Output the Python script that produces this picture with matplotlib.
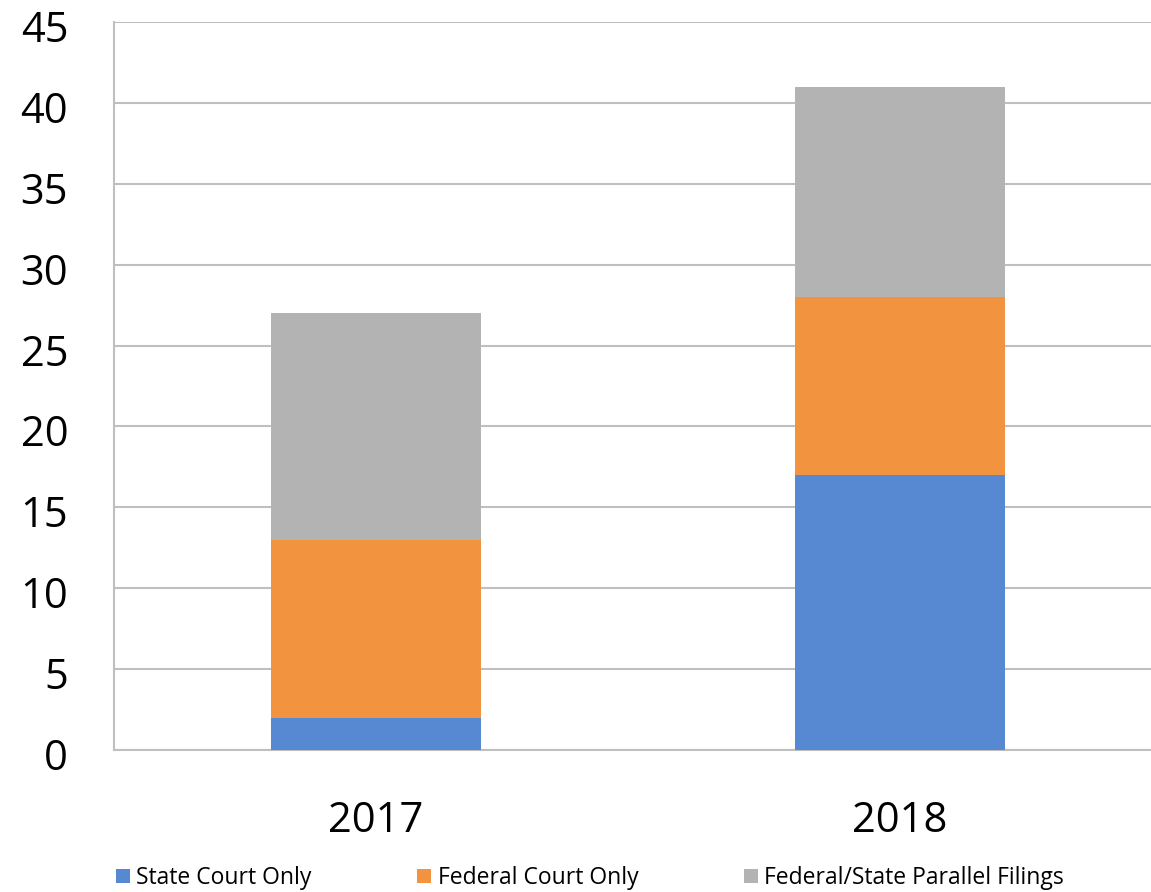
"""
Stacked bar chart: filings by court type, 2017 vs 2018.
"""
import matplotlib
matplotlib.use('Agg')
import matplotlib.pyplot as plt
import matplotlib.transforms as mtransforms
import numpy as np
from matplotlib.patches import Patch

plt.rcParams['font.family'] = ['Liberation Sans Narrow', 'Open Sans', 'DejaVu Sans']

years = ['2017', '2018']
state_only = [2, 17]
federal_only = [11, 11]
parallel = [14, 13]

series_labels = ['State Court Only', 'Federal Court Only', 'Federal/State Parallel Filings']
colors = ['#5689D1', '#F2943F', '#B3B3B3']

fig = plt.figure(figsize=(11.51, 8.92), dpi=100)
ax = fig.add_axes([114 / 1151, 142 / 892, 1037 / 1151, 728 / 892])

x = np.arange(len(years))
bottom = np.zeros(len(years))
for vals, color in zip([state_only, federal_only, parallel], colors):
    ax.bar(x, vals, width=0.4, bottom=bottom, color=color, zorder=3)
    bottom += np.array(vals)

ax.set_xlim(-0.5, 1.479)
ax.set_ylim(0, 45)
ax.set_yticks(range(0, 46, 5))
ax.set_xticks(x)
ax.set_xticklabels(years)
ax.tick_params(axis='both', length=0, labelsize=30)
ax.tick_params(axis='y', pad=33)
ax.tick_params(axis='x', pad=36)
# nudge y labels down a few pixels, like the original
offset = mtransforms.ScaledTranslation(0, -4 / 100, fig.dpi_scale_trans)
for lbl in ax.get_yticklabels():
    lbl.set_transform(lbl.get_transform() + offset)
ax.grid(True, axis='y', color='#BFBFBF', linewidth=1.5, zorder=0)

for side in ['top', 'right']:
    ax.spines[side].set_visible(False)
for side in ['left', 'bottom']:
    ax.spines[side].set_color('#BFBFBF')
    ax.spines[side].set_linewidth(1.5)

handles = [Patch(facecolor=c, label=l) for c, l in zip(colors, series_labels)]
fig.legend(handles=handles, loc='center', bbox_to_anchor=(590 / 1151, 1 - 878 / 892),
           ncol=3, frameon=False, fontsize=16.5, handlelength=0.6, handleheight=0.6,
           handletextpad=0.3, columnspacing=4.6)

plt.savefig('out.png', dpi=100)
plt.close()
